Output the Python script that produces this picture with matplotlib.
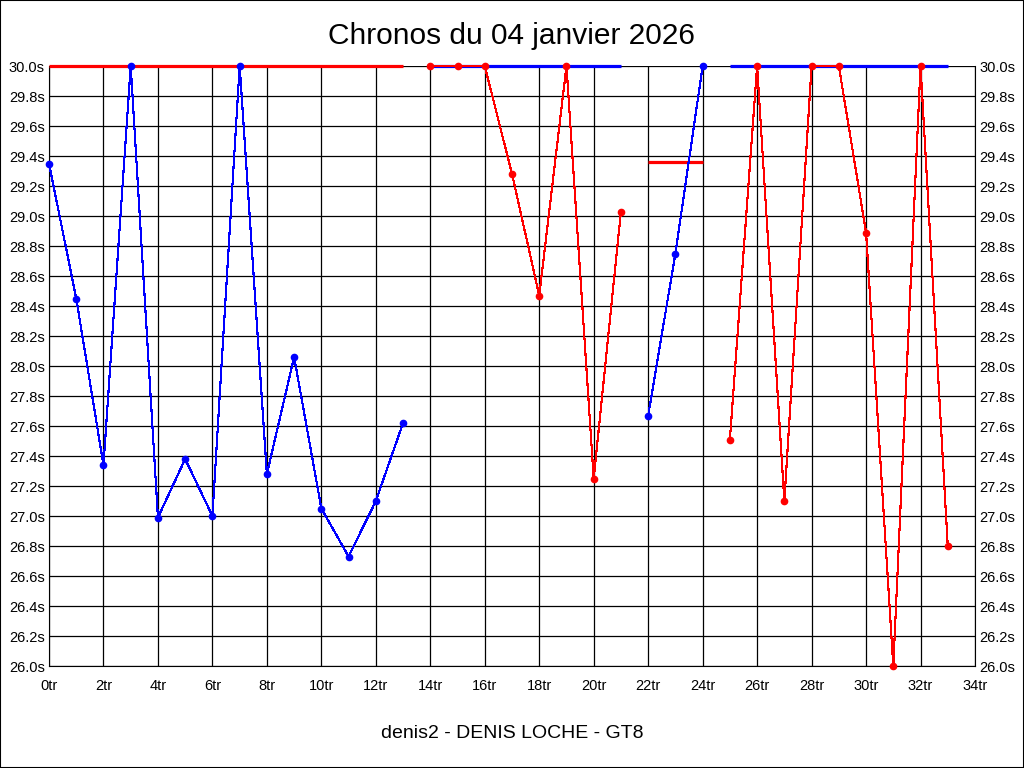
import matplotlib
matplotlib.use('Agg')
import matplotlib.pyplot as plt
from matplotlib.patches import Rectangle

# lap numbers and lap times (seconds), one list per session block
laps_1 = [0, 1, 2, 3, 4, 5, 6, 7, 8, 9, 10, 11, 12, 13]
times_1 = [29.35, 28.45, 27.34, 30.0, 26.99, 27.38, 27.0, 30.0, 27.28, 28.06, 27.05, 26.73, 27.10, 27.62]

laps_2 = [14, 15, 16, 17, 18, 19, 20, 21]
times_2 = [30.0, 30.0, 30.0, 29.28, 28.47, 30.0, 27.25, 29.03]

laps_3 = [22, 23, 24]
times_3 = [27.67, 28.75, 30.0]

laps_4 = [25, 26, 27, 28, 29, 30, 31, 32, 33]
times_4 = [27.51, 30.0, 27.10, 30.0, 30.0, 28.89, 26.0, 30.0, 26.80]

# average bars per block (start lap, end lap, value)
avg_1 = (0, 13, 30.0)
avg_2 = (14, 21, 30.0)
avg_3 = (22, 24, 29.36)
avg_4 = (25, 33, 30.0)

blocks = [
    (laps_1, times_1, avg_1, 'blue', 'red'),
    (laps_2, times_2, avg_2, 'red', 'blue'),
    (laps_3, times_3, avg_3, 'blue', 'red'),
    (laps_4, times_4, avg_4, 'red', 'blue'),
]

x_ticks = list(range(0, 35, 2))
y_ticks = [round(26.0 + 0.2 * i, 1) for i in range(21)]

#############################################################################################

fig = plt.figure(figsize=(10.24, 7.68), dpi=100)
fig.patches.append(Rectangle((0, 0), 1, 1, transform=fig.transFigure,
                             fill=False, edgecolor='black', linewidth=1.5))
ax = fig.add_axes([49 / 1024, 1 - 666 / 768, 926 / 1024, 600 / 768])

for laps, times, avg, col, avg_col in blocks:
    ax.plot([avg[0], avg[1]], [avg[2], avg[2]], color=avg_col, linewidth=2.3,
            solid_capstyle='butt', zorder=3, clip_on=False)
    ax.plot(laps, times, color=col, linewidth=0.8, marker='o', markersize=4.5,
            zorder=4, clip_on=False, antialiased=False)

ax.set_xlim(0, 34)
ax.set_ylim(26.0, 30.0)
ax.set_xticks(x_ticks)
ax.set_xticklabels([f'{v}tr' for v in x_ticks])
ax.set_yticks(y_ticks)
ax.set_yticklabels([f'{v:.1f}s' for v in y_ticks])
ax.grid(True, color='black', linewidth=0.9, zorder=1)
ax.set_axisbelow(True)
ax.tick_params(axis='both', length=0, labelsize=10.5)
ax.tick_params(axis='x', pad=9)
ax.tick_params(axis='y', pad=3, labelright=True, right=True)
for name in ['left', 'right', 'bottom']:
    ax.spines[name].set_color('black')
ax.spines['top'].set_visible(False)
for lab in ax.get_xticklabels() + ax.get_yticklabels():
    lab.set_fontfamily('Liberation Sans')

fig.text(0.5, 1 - 36 / 768, 'Chronos du 04 janvier 2026', ha='center', va='center',
         fontsize=21.5, family='Liberation Sans')
fig.text(0.5, 1 - 733 / 768, 'denis2 - DENIS LOCHE - GT8', ha='center', va='center',
         fontsize=14, family='Liberation Sans')

fig.savefig('out.png', dpi=100)
